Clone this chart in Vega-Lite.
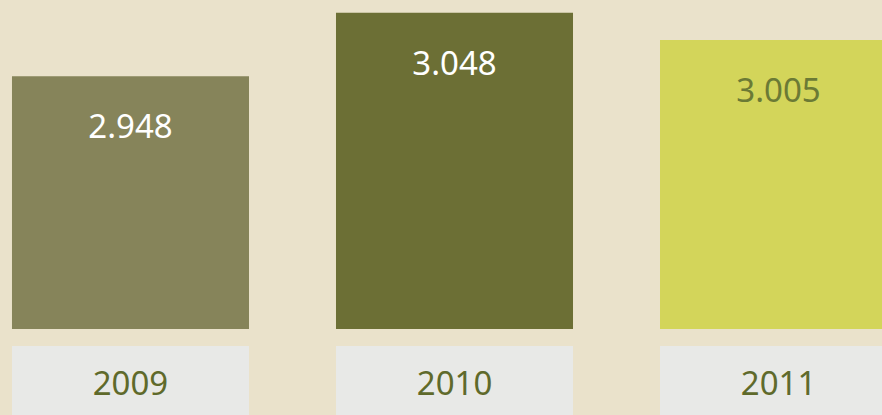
{
  "$schema": "https://vega.github.io/schema/vega-lite/v6.json",
  "background": "#EAE2CB",
  "padding": 0,
  "spacing": 17,
  "config": {"view": {"stroke": null}, "font": "Noto Sans"},
  "data": {"values": [
    {"year": "2009", "value": 2.948},
    {"year": "2010", "value": 3.048},
    {"year": "2011", "value": 3.005}
  ]},
  "vconcat": [
    {
      "width": 909,
      "height": 329,
      "resolve": {"scale": {"color": "independent"}},
      "layer": [
        {
          "mark": {"type": "bar", "clip": true},
          "encoding": {
            "x": {"field": "year", "type": "nominal", "axis": null, "scale": {"paddingInner": 0.2685, "paddingOuter": 0.037}},
            "y": {"field": "value", "type": "quantitative", "axis": null, "scale": {"domain": [2.5504, 3.068], "zero": false}},
            "y2": {"datum": 2.5504},
            "color": {"field": "year", "type": "nominal", "legend": null, "scale": {"domain": ["2009", "2010", "2011"], "range": ["#86845A", "#6C6F35", "#D3D55A"]}}
          }
        },
        {
          "mark": {"type": "text", "dy": 52, "fontSize": 33, "baseline": "middle"},
          "encoding": {
            "x": {"field": "year", "type": "nominal", "axis": null, "scale": {"paddingInner": 0.2685, "paddingOuter": 0.037}},
            "y": {"field": "value", "type": "quantitative", "axis": null, "scale": {"domain": [2.5504, 3.068], "zero": false}},
            "text": {"field": "value", "type": "quantitative", "format": ".3f"},
            "color": {"field": "year", "type": "nominal", "legend": null, "scale": {"domain": ["2009", "2010", "2011"], "range": ["#FFFFFF", "#FFFFFF", "#6B7A35"]}}
          }
        }
      ]
    },
    {
      "width": 909,
      "height": 73,
      "layer": [
        {
          "mark": {"type": "rect", "color": "#E8E9E7"},
          "encoding": {
            "x": {"field": "year", "type": "nominal", "axis": null, "scale": {"paddingInner": 0.2685, "paddingOuter": 0.037}}
          }
        },
        {
          "mark": {"type": "text", "fontSize": 33, "baseline": "middle", "dy": 2, "color": "#5F6A2B"},
          "encoding": {
            "x": {"field": "year", "type": "nominal", "axis": null, "scale": {"paddingInner": 0.2685, "paddingOuter": 0.037}},
            "text": {"field": "year", "type": "nominal"}
          }
        }
      ]
    }
  ]
}
